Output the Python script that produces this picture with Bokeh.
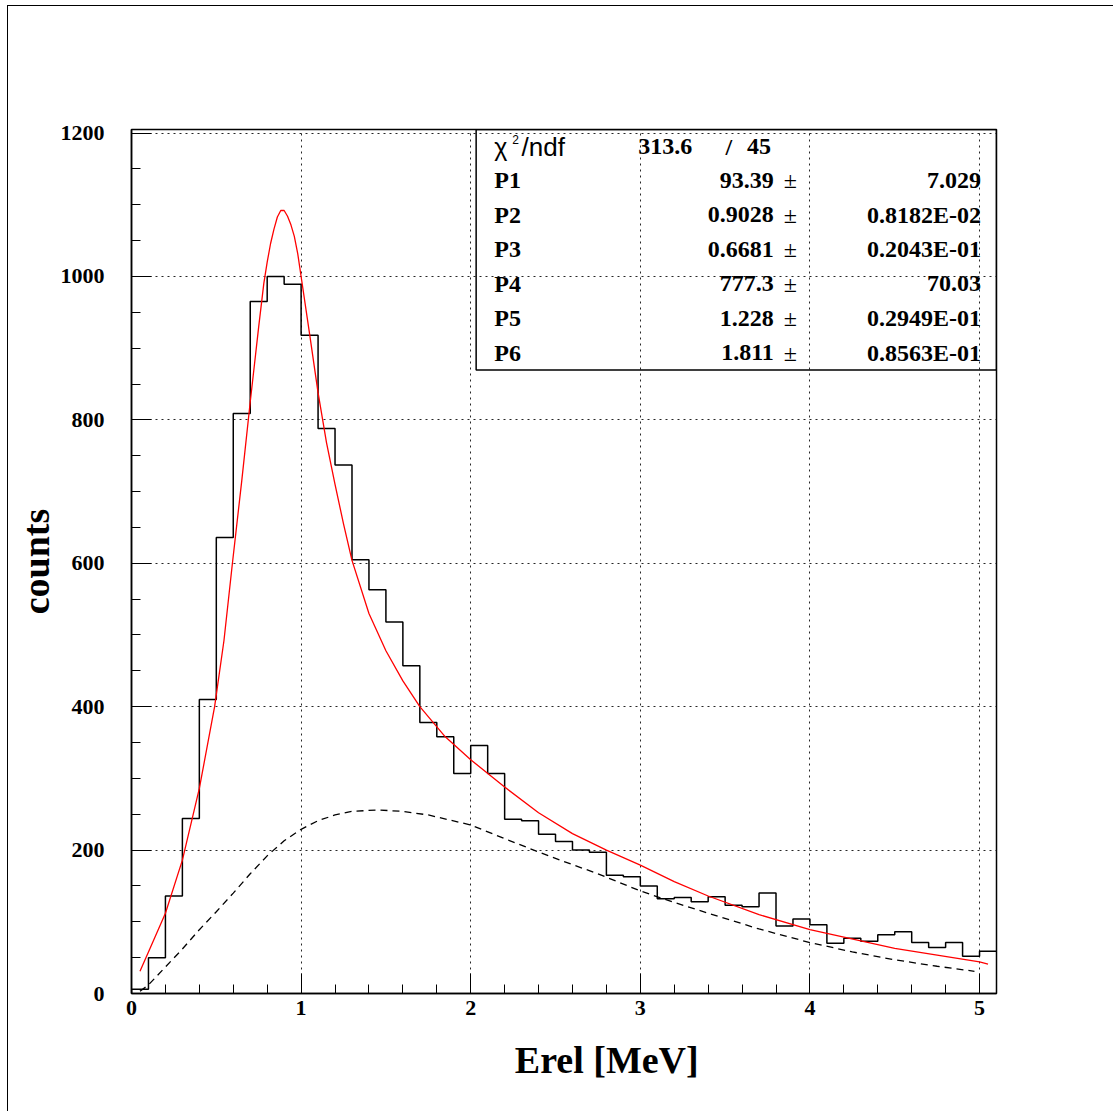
from bokeh.plotting import figure
from bokeh.models import FixedTicker, Range1d, Label, BoxAnnotation
from bokeh.embed import file_html
from bokeh.resources import INLINE

# ---------------- data ----------------
bin_edges_start = 0.0
bin_width = 0.1
counts = [6, 50, 136, 244, 410, 636, 809, 965, 1000, 989,
          918, 788, 737, 605, 563, 518, 457, 378, 358, 307,
          346, 307, 243, 241, 222, 212, 200, 197, 165, 163,
          150, 132, 134, 128, 135, 123, 121, 140, 94, 104,
          96, 70, 77, 73, 82, 86, 71, 64, 71, 52, 59]

fit_x = [0.05, 0.1, 0.2, 0.3, 0.4, 0.49, 0.545, 0.595, 0.65, 0.7, 0.75, 0.78, 0.8,
         0.82, 0.84, 0.86, 0.88, 0.9, 0.92, 0.94, 0.96, 0.98, 1.0, 1.05, 1.1,
         1.15, 1.2, 1.25, 1.3, 1.4, 1.5, 1.6, 1.7, 1.85, 2.0, 2.2, 2.4, 2.6,
         2.8, 3.0, 3.2, 3.4, 3.7, 4.0, 4.5, 5.0, 5.05]
fit_y = [31, 58, 112, 186, 286, 400, 492, 600, 715, 825, 930, 990, 1020,
         1046, 1066, 1083, 1092, 1092, 1084, 1072, 1056, 1032, 1000, 920, 838,
         768, 710, 655, 604, 530, 478, 436, 400, 358, 326, 288, 252, 223,
         200, 179, 156, 136, 110, 89, 63, 44, 41]

bg_x = [0.05, 0.1, 0.2, 0.3, 0.4, 0.5, 0.6, 0.7, 0.8, 0.9, 1.0, 1.1, 1.2, 1.3,
        1.45, 1.6, 1.75, 2.0, 2.2, 2.35, 2.55, 2.75, 3.0, 3.2, 3.4, 3.7, 4.0,
        4.25, 4.5, 4.75, 4.97]
bg_y = [3, 12, 37, 62, 89, 114, 140, 167, 192, 213, 229, 241, 249, 254,
        256, 254, 249, 235, 216, 202, 184, 167, 143, 127, 112, 90, 71,
        58, 47, 38, 31]

x_ticks = [0, 1, 2, 3, 4, 5]
y_ticks = [0, 200, 400, 600, 800, 1000, 1200]

chi2_text = "313.6"
ndf_text = "45"
par_names = ["P1", "P2", "P3", "P4", "P5", "P6"]
par_values = ["93.39", "0.9028", "0.6681", "777.3", "1.228", "1.811"]
par_errors = ["7.029", "0.8182E-02", "0.2043E-01", "70.03", "0.2949E-01", "0.8563E-01"]

# ---------------- figure ----------------
SERIF = "Liberation Serif"
p = figure(width=1106, height=1106, output_backend="svg", toolbar_location=None,
           x_range=Range1d(0, 5.1), y_range=Range1d(0, 1205),
           min_border_left=123, min_border_right=118,
           min_border_top=123, min_border_bottom=119)
p.margin = (5, 0, 0, 7)
p.styles = {"border-top": "1px solid black", "border-left": "1px solid black"}
p.background_fill_color = "white"
p.border_fill_color = "white"
p.outline_line_color = "black"
p.outline_line_width = 1.5

for ax in (p.xaxis[0], p.yaxis[0]):
    ax.axis_line_color = "black"
    ax.axis_line_width = 1.5
    ax.major_tick_in = 20
    ax.major_tick_out = 0
    ax.minor_tick_in = 9
    ax.minor_tick_out = 0
    ax.major_tick_line_color = "black"
    ax.minor_tick_line_color = "black"
    ax.major_label_text_font = SERIF
    ax.major_label_text_font_style = "bold"
    ax.major_label_text_font_size = "22px"
    ax.major_label_text_color = "black"
    ax.axis_label_text_font = SERIF
    ax.axis_label_text_font_style = "bold"
    ax.axis_label_text_font_size = "38px"
    ax.axis_label_text_color = "black"

p.xaxis.ticker = FixedTicker(ticks=x_ticks,
                             minor_ticks=[round(0.2 * i, 2) for i in range(0, 26)])
p.yaxis.ticker = FixedTicker(ticks=y_ticks, minor_ticks=list(range(0, 1201, 50)))
p.xaxis.major_label_standoff = 7
p.yaxis.major_label_standoff = 27

p.xaxis.axis_label = "\u00a0" * 9 + "Erel [MeV]"
p.xaxis.axis_label_standoff = 21
p.yaxis.axis_label = "counts"
p.yaxis.axis_label_standoff = 1

p.xgrid.ticker = FixedTicker(ticks=x_ticks)
p.ygrid.ticker = FixedTicker(ticks=y_ticks)
for g in (p.xgrid[0], p.ygrid[0]):
    g.grid_line_color = "black"
    g.grid_line_dash = "2 4"
    g.grid_line_width = 1
    g.grid_line_alpha = 0.85

# histogram as step outline
edges = [round(bin_edges_start + bin_width * i, 2) for i in range(len(counts) + 1)]
step_x = [edges[0]] + edges
step_y = [0] + counts + [counts[-1]]
p.step(step_x, step_y, mode="after", line_color="black", line_width=1.5)

# total fit (red) and background (dashed)
p.line(fit_x, fit_y, line_color="#ff0000", line_width=1.3)
p.line(bg_x, bg_y, line_color="black", line_width=1.3, line_dash="7 5")

# stats box
box_left, box_right, box_top, box_bottom = 2.032, 5.1, 1205, 869.7
p.add_layout(BoxAnnotation(left=box_left, right=box_right, top=box_top, bottom=box_bottom,
                           fill_alpha=0, line_color="black", line_alpha=1, line_width=1.5))
row_y = [1181, 1134, 1086, 1038, 990, 941.5, 893.5]
name_x, val_x, pm_x, err_x = 2.139, 3.787, 3.885, 5.008
FS = "24px"

p.add_layout(Label(x=name_x, y=row_y[0], text="χ", text_font="Liberation Sans",
                   text_font_size="25px", text_baseline="middle", text_align="left",
                   text_color="black"))
p.add_layout(Label(x=2.245, y=row_y[0] + 10, text="2", text_font="Liberation Sans",
                   text_font_size="12px", text_baseline="middle", text_align="left",
                   text_color="black"))
p.add_layout(Label(x=2.30, y=row_y[0], text="/ndf", text_font="Liberation Sans",
                   text_font_size="26px", text_baseline="middle", text_align="left",
                   text_color="black"))
p.add_layout(Label(x=2.988, y=row_y[0], text=chi2_text, text_font=SERIF,
                   text_font_style="bold", text_font_size=FS, text_color="black",
                   text_baseline="middle", text_align="left"))
p.add_layout(Label(x=3.522, y=row_y[0], text="/", text_font=SERIF,
                   text_font_style="bold", text_font_size=FS, text_color="black",
                   text_baseline="middle", text_align="center"))
p.add_layout(Label(x=3.77, y=row_y[0], text=ndf_text, text_font=SERIF,
                   text_font_style="bold", text_font_size=FS, text_color="black",
                   text_baseline="middle", text_align="right"))

for i, (nm, v, e) in enumerate(zip(par_names, par_values, par_errors)):
    yy = row_y[i + 1]
    p.add_layout(Label(x=name_x, y=yy, text=nm, text_font=SERIF, text_font_style="bold",
                       text_font_size=FS, text_baseline="middle", text_align="left",
                       text_color="black"))
    p.add_layout(Label(x=val_x, y=yy, text=v, text_font=SERIF, text_font_style="bold",
                       text_font_size=FS, text_baseline="middle", text_align="right",
                       text_color="black"))
    p.add_layout(Label(x=pm_x, y=yy, text="±", text_font=SERIF,
                       text_font_size=FS, text_baseline="middle", text_align="center",
                       text_color="black"))
    p.add_layout(Label(x=err_x, y=yy, text=e, text_font=SERIF, text_font_style="bold",
                       text_font_size=FS, text_baseline="middle", text_align="right",
                       text_color="black"))

open("out.html", "w").write(file_html(p, INLINE))
